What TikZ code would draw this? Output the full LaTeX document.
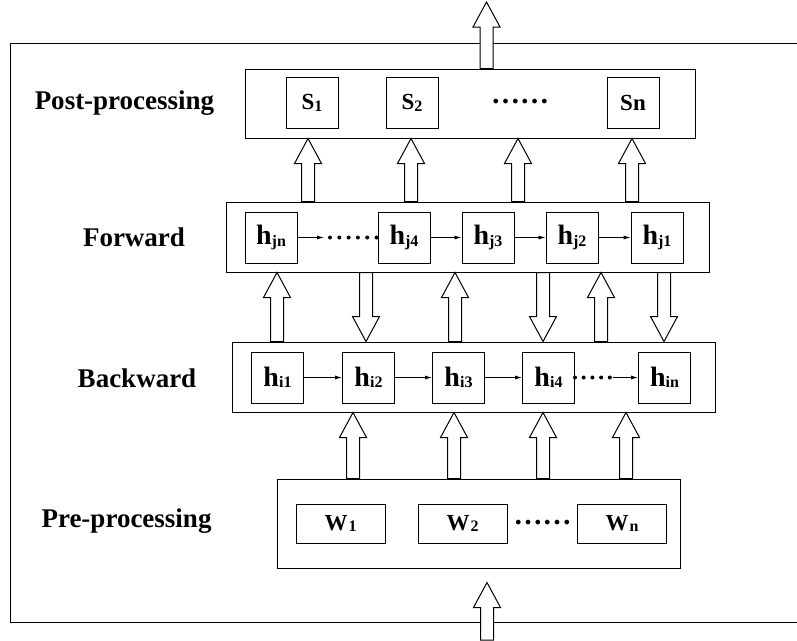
\documentclass[tikz,border=0pt]{standalone}
\usepackage{fontspec}
\setmainfont{Liberation Serif}
\usetikzlibrary{calc, positioning, arrows.meta}

% small lowered index next to a letter
\newcommand{\idx}[2]{#1\raisebox{-1.5pt}{\fontsize{16}{16}\selectfont #2}}

% hollow block arrow: tail #1, tip #2
\newcommand{\fatarrow}[2]{%
  \coordinate (fa) at ($#2!25pt!#1$);
  \draw[fat] ($#1!6.5pt!90:#2$) -- ($(fa)!6.5pt!90:#2$) -- ($(fa)!13.5pt!90:#2$)
    -- #2 -- ($(fa)!13.5pt!-90:#2$) -- ($(fa)!6.5pt!-90:#2$) -- ($#1!6.5pt!-90:#2$) -- cycle;}

\begin{document}
\begin{tikzpicture}[
  x=1pt, y=-1pt,
  stage/.style={font=\fontsize{27}{30}\selectfont\bfseries},
  layer/.style={draw, line width=1pt, inner sep=0pt},
  cell/.style={draw, line width=1pt, minimum width=52pt, minimum height=51pt,
               inner sep=0pt, font=\fontsize{23}{26}\selectfont\bfseries},
  hcell/.style={cell, font=\fontsize{28}{30}\selectfont\bfseries},
  wcell/.style={cell, minimum width=89pt, minimum height=39pt},
  gap/.style={anchor=base, inner sep=0pt, font=\fontsize{29}{30}\selectfont\bfseries},
  link/.style={-{Latex[length=7pt,width=4pt]}, line width=0.8pt},
  dots/.style={line width=4pt, line cap=round},
  fat/.style={draw, fill=white, line width=1pt, line join=miter}
]
\useasboundingbox (0,0) rectangle (797,640);

% outer frame
\draw[line width=1pt] (797,43) -- (10,43) -- (10,622) -- (797,622);

% stage names
\node[stage] (lpost) at (124.5,103.5) {Post-processing};
\node[stage] (lfw) at (134,237) {Forward};
\node[stage] (lbw) at (137,378) {Backward};
\node[stage] (lpre) at (126.5,521) {Pre-processing};

% layers
\node[layer, minimum width=450pt, minimum height=69pt] (post) at (470,103.5) {};
\node[layer, minimum width=483pt, minimum height=70pt] (fw) at (467.5,237) {};
\node[layer, minimum width=483pt, minimum height=70pt] (bw) at (473.5,377) {};
\node[layer, minimum width=403pt, minimum height=89pt] (pre) at (478.5,523.5) {};

% post-processing
\node[cell] (s1) at (312,103) {\idx{S}{1}};
\node[cell, right=47pt of s1] (s2) {\idx{S}{2}};
\node[gap] (sdots) at (520,103.5) {……};
\node[cell] (sn) at (633,103) {Sn};

% forward
\node[hcell] (hjn) at (271,237.5) {\idx{h}{jn}};
\node[hcell] (hj4) at (404,237.5) {\idx{h}{j4}};
\node[hcell, right=31pt of hj4] (hj3) {\idx{h}{j3}};
\node[hcell, right=31pt of hj3] (hj2) {\idx{h}{j2}};
\node[hcell, right=32pt of hj2] (hj1) {\idx{h}{j1}};
\coordinate (fdots) at (324,237.5);

\draw[link] (hjn) -- (fdots);
\draw[dots, dash pattern=on 0pt off 9.3pt] ($(fdots)+(6,0)$) -- ($(hj4.west)+(-1,0)$);
\draw[link] (hj4) -- (hj3);
\draw[link] (hj3) -- (hj2);
\draw[link] (hj2) -- (hj1);

% backward
\node[hcell] (hi1) at (277.5,377.5) {\idx{h}{i1}};
\node[hcell, right=38pt of hi1] (hi2) {\idx{h}{i2}};
\node[hcell, right=37pt of hi2] (hi3) {\idx{h}{i3}};
\node[hcell, right=37pt of hi3] (hi4) {\idx{h}{i4}};
\node[hcell, right=63pt of hi4] (hin) {\idx{h}{in}};
\coordinate (bdots) at (613,377.5);

\draw[link] (hi1) -- (hi2);
\draw[link] (hi2) -- (hi3);
\draw[link] (hi3) -- (hi4);
\draw[dots, dash pattern=on 0pt off 8.7pt] (hi4.east) -- (bdots);
\draw[link] (bdots) -- (hin);

% pre-processing
\node[wcell] (w1) at (340.5,523.5) {\idx{W\kern1pt}{1}};
\node[wcell, right=32pt of w1] (w2) {\idx{W\kern1pt}{2}};
\node[gap] (wdots) at (542.5,524) {……};
\node[wcell, right=69.5pt of w2] (wn) {\idx{W\kern1pt}{n}};

% block arrows
\coordinate (out) at (486.5,2);
\coordinate (in) at (487,640);
\fatarrow{(in)}{($(pre.south -| in)+(0,14)$)}
\fatarrow{(353,0 |- pre.north)}{(353,0 |- bw.south)}
\fatarrow{(454,0 |- pre.north)}{(454,0 |- bw.south)}
\fatarrow{(543,0 |- pre.north)}{(543,0 |- bw.south)}
\fatarrow{(626,0 |- pre.north)}{(626,0 |- bw.south)}
\fatarrow{(277,0 |- bw.north)}{(277,0 |- fw.south)}
\fatarrow{(366,0 |- fw.south)}{(366,0 |- bw.north)}
\fatarrow{(455,0 |- bw.north)}{(455,0 |- fw.south)}
\fatarrow{(543,0 |- fw.south)}{(543,0 |- bw.north)}
\fatarrow{(601,0 |- bw.north)}{(601,0 |- fw.south)}
\fatarrow{(664,0 |- fw.south)}{(664,0 |- bw.north)}
\fatarrow{(308,0 |- fw.north)}{(308,0 |- post.south)}
\fatarrow{(411,0 |- fw.north)}{(411,0 |- post.south)}
\fatarrow{(518,0 |- fw.north)}{(518,0 |- post.south)}
\fatarrow{(632,0 |- fw.north)}{(632,0 |- post.south)}
\fatarrow{(post.north -| out)}{(out)}
\end{tikzpicture}
\end{document}
